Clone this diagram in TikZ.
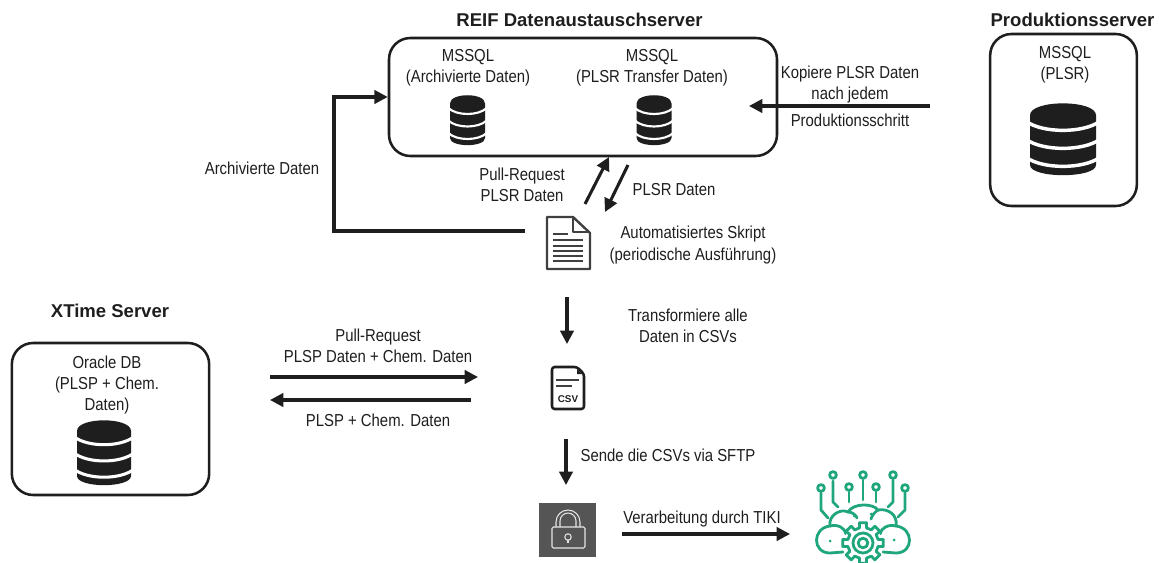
\documentclass[tikz,border=0pt]{standalone}
\usepackage{fontspec}
\setmainfont[FakeStretch=0.86]{Liberation Sans}
\newfontfamily\titlefont{Liberation Sans}
\usetikzlibrary{arrows.meta,calc}
\definecolor{ink}{HTML}{1E1E1E}
\definecolor{teal}{HTML}{1FA67C}
\definecolor{lockgrey}{HTML}{555555}
\definecolor{lockline}{HTML}{E4E4E4}
\newcommand{\dbicon}[5]{%
  \begin{scope}[shift={(#1,#2)},xscale=#3/2,yscale=#4]
    \fill[ink] (-1,.17) .. controls (-1,-.05) and (1,-.05) .. (1,.17) -- (1,.86)
      .. controls (1,1.05) and (-1,1.05) .. (-1,.86) -- cycle;
    \foreach \d in {0,.25,.5}{
      \draw[white,line width=#5] (-1.1,.26+\d) .. controls (-.6,.42+\d) and (.6,.42+\d) .. (1.1,.26+\d);
    }
  \end{scope}}
\tikzset{
  x=.75pt,y=-.75pt,
  serverbox/.style={draw=ink,line width=1.9pt,rounded corners=16pt,inner sep=0,fill=white},
  lab/.style={font=\fontsize{13}{15.9}\selectfont,align=center,text=ink,inner sep=0},
  ttl/.style={font=\fontsize{13.9}{16}\selectfont\titlefont\bfseries,text=ink,inner sep=0},
  flow/.style={draw=ink,line width=2.3pt,-{Triangle[length=10pt,width=10pt]}},
  icon/.style={draw=ink!85,line width=1.8pt,line join=round},
  iconline/.style={draw=ink!85,line width=1.5pt},
  tl/.style={draw=teal,line width=2.1pt,line cap=round,line join=round},
}
\begin{document}
\begin{tikzpicture}
\useasboundingbox (0,0) rectangle (1159,563);
% boxes
\node[serverbox,minimum width=291pt,minimum height=88.5pt] (reif) at (583,97) {};
\node[serverbox,minimum width=110pt,minimum height=129pt] (prod) at (1063.5,120) {};
\node[serverbox,minimum width=148pt,minimum height=114pt] (xtime) at (110.5,419) {};
% titles
\node[ttl] (treif) at (579.5,20) {REIF Datenaustauschserver};
\node[ttl] (tprod) at (1072.5,20) {Produktionsserver};
\node[ttl] (txtime) at (110,311) {XTime Server};
% box contents
\node[lab] (l1) at (468,68) {MSSQL\\(Archivierte Daten)};
\node[lab] (l2) at (652,68) {MSSQL\\(PLSR Transfer Daten)};
\node[lab] (l3) at (1065,65) {MSSQL\\(PLSR)};
\node[lab] (l4) at (107,385) {Oracle DB\\(PLSP + Chem.\\Daten)};
\dbicon{467.5}{95}{35}{50}{1.6pt}
\dbicon{654}{95}{35}{50}{1.6pt}
\dbicon{1063}{103}{66}{72}{2.6pt}
\dbicon{104}{420}{54}{65}{2.3pt}
% document icon
\draw[icon,fill=white] (547,217) -- (573,217) -- (590,233) -- (590,269) -- (547,269) -- cycle;
\draw[icon] (573,217) -- (573,232) -- (590,232);
\draw[iconline] (553,234) -- (568,234);
\foreach \yy in {240,245.5,251,256,261}{\draw[iconline] (553,\yy) -- (583,\yy);}
% csv icon
\draw[draw=ink,line width=1.9pt,rounded corners=2pt,line join=round] (552,367) -- (577,367) -- (584,374) -- (584,409) -- (552,409) -- cycle;
\fill[ink] (577,369) -- (582,374) -- (577,374) -- cycle;
\draw[iconline] (556,380) -- (579,380);
\draw[iconline] (556,386) -- (572,386);
\node[inner sep=0,text=ink,font=\fontsize{7.4}{8}\selectfont\titlefont\bfseries] (csv) at (568,399) {CSV};
% lock
\node[fill=lockgrey,minimum width=42.5pt,minimum height=40.5pt,inner sep=0] (lock) at (567.5,530) {};
\draw[lockline,line width=.8pt,rounded corners=1pt] (552,527) rectangle (585,548);
\draw[lockline,line width=.8pt] (556,527) -- (556,522) arc[start angle=180,end angle=0,x radius=12,y radius=-12] -- (580,527);
\draw[lockline,line width=.8pt] (560,527) -- (560,521) arc[start angle=180,end angle=0,x radius=8,y radius=-8] -- (576,527);
\draw[lockline,line width=.8pt] (568,537) circle[radius=3.2];
\draw[lockline,line width=.8pt] (568,540) -- (568,543);
% brain
\foreach \cx/\cy in {833/475,863/475,893/475,821/488,849/487,876/487,905/488}{\draw[tl] (\cx,\cy) circle[radius=3.4];}
\draw[tl] (821,493) -- (821,510) -- (828,518);
\draw[tl] (833,481) -- (833,502) -- (838,507);
\draw[tl] (849,492) -- (849,502);
\draw[tl] (863,480) -- (863,500);
\draw[tl] (876,492) -- (876,502);
\draw[tl] (893,480) -- (893,502) -- (888,507);
\draw[tl] (905,493) -- (905,510) -- (898,517);
\draw[tl] (843,552) -- (830,553) .. controls (812,553) and (812,528) .. (830,526)
  .. controls (828,516) and (840,508) .. (848,512)
  .. controls (853,503) and (873,503) .. (878,510)
  .. controls (888,508) and (898,515) .. (896,526)
  .. controls (914,528) and (914,553) .. (896,553) -- (883,552);
\draw[tl] (830,526) .. controls (838,524) and (845,528) .. (846,534);
\draw[tl] (848,512) .. controls (852,512) and (856,515) .. (857,518);
\draw[tl] (878,510) .. controls (875,512) and (872,515) .. (871,519);
\draw[tl] (896,526) .. controls (888,524) and (881,528) .. (880,534);
\fill[teal] (830,541) circle[radius=1.5] (894,540) circle[radius=1.5] (854,516) circle[radius=1.5] (871,514) circle[radius=1.5];
\fill[white] (863,543) circle[radius=19];
\coordinate (g) at (863,543);
\foreach \a in {0,45,...,315}{
  \draw[tl] ($(g)+(\a-32:15.5)$) -- ($(g)+(\a-13:15.5)$) -- ($(g)+(\a-10:20.5)$) -- ($(g)+(\a+10:20.5)$) -- ($(g)+(\a+13:15.5)$);
}
\draw[tl] (g) circle[radius=10];
\draw[tl] (g) circle[radius=4.8];
\coordinate (brain) at (790,534);
% free ends
\coordinate (a1s) at (930,106); \coordinate (a1e) at (749,106);
\coordinate (a2s) at (525,231); \coordinate (a2c) at (334,231); \coordinate (a2m) at (334,97);
\coordinate (a3s) at (585,204); \coordinate (a3e) at (609,157);
\coordinate (a4s) at (628,165); \coordinate (a4e) at (605,212);
\coordinate (a5s) at (567,297); \coordinate (a5e) at (567,344);
\coordinate (a6s) at (270,377); \coordinate (a6e) at (478,377);
\coordinate (a7s) at (471,400); \coordinate (a7e) at (270,400);
\coordinate (a8s) at (566,439); \coordinate (a8e) at (566,485);
\coordinate (a9s) at (622,534);
% connectors
\draw[flow] (a1s) -- (a1e);
\draw[flow] (a2s) -- (a2c) -- (a2m) -- (reif.west);
\draw[flow] (a3s) -- (a3e);
\draw[flow] (a4s) -- (a4e);
\draw[flow] (a5s) -- (a5e);
\draw[flow] (a6s) -- (a6e);
\draw[flow] (a7s) -- (a7e);
\draw[flow] (a8s) -- (a8e);
\draw[flow] (a9s) -- (brain);
% labels
\node[lab] (t1) at (850,74) {Kopiere PLSR Daten};
\node[lab] (t1b) at (850,95) {nach jedem};
\node[lab] (t1c) at (850,120) {Produktionsschritt};
\node[lab] (t2) at (262,168) {Archivierte Daten};
\node[lab] (t3) at (522,185) {Pull-Request\\PLSR Daten};
\node[lab] (t4) at (674,190) {PLSR Daten};
\node[lab] (t5) at (693,245) {Automatisiertes Skript\\(periodische Ausführung)};
\node[lab] (t6) at (688,326) {Transformiere alle\\Daten in CSVs};
\node[lab] (t7) at (378,346) {Pull-Request\\PLSP Daten + Chem. Daten};
\node[lab] (t8) at (378,420) {PLSP + Chem. Daten};
\node[lab] (t9) at (668,455) {Sende die CSVs via SFTP};
\node[lab] (t10) at (702,519) {Verarbeitung durch TIKI};
\end{tikzpicture}
\end{document}
